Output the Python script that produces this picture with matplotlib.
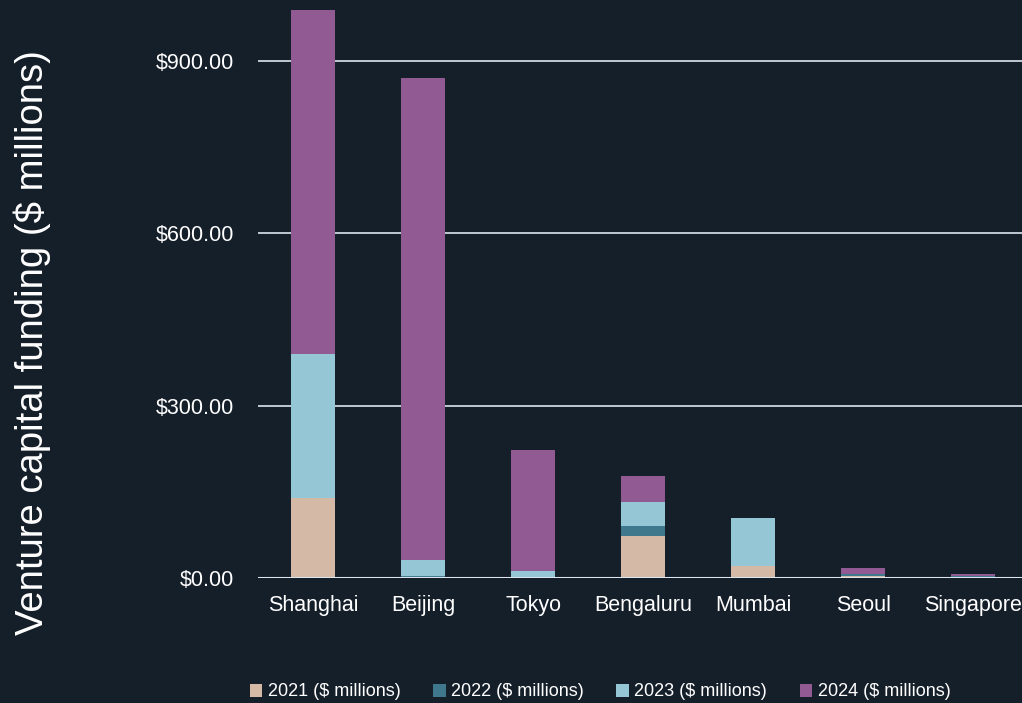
import numpy as np
import matplotlib.pyplot as plt
from matplotlib.ticker import FuncFormatter

plt.rcParams['font.family'] = ['Liberation Sans', 'DejaVu Sans']

# Данные
cities = ["Shanghai", "Beijing", "Tokyo", "Bengaluru", "Mumbai", "Seoul", "Singapore"]
funding_2021 = [140, 0, 0, 73, 21, 4, 0]
funding_2022 = [0, 4, 0, 17.5, 0, 3.5, 4]
funding_2023 = [250, 27, 12, 42, 83.5, 0, 0]
funding_2024 = [599, 839, 211, 45, 0, 10, 3]

series = [
    ("2021 ($ millions)", funding_2021, "#d3b9a6"),
    ("2022 ($ millions)", funding_2022, "#3f788d"),
    ("2023 ($ millions)", funding_2023, "#95c6d6"),
    ("2024 ($ millions)", funding_2024, "#925a93"),
]

bg = "#151f2a"
fig = plt.figure(figsize=(10.22, 7.03), dpi=100, facecolor=bg)
ax = fig.add_axes([0.2524, 0.1778, 0.7536, 0.817])
ax.set_facecolor(bg)

x = np.arange(len(cities))
bottom = np.zeros(len(cities))
for label, vals, color in series:
    vals = np.array(vals, dtype=float)
    ax.bar(x, vals, width=0.4, bottom=bottom, color=color, label=label, zorder=3)
    bottom += vals

ax.set_xlim(-0.5, len(cities) - 0.5)
ax.set_ylim(0, 1000)
ax.set_yticks([0, 300, 600, 900])
ax.yaxis.set_major_formatter(FuncFormatter(lambda v, p: f"${v:,.2f}"))
ax.set_xticks(x)
ax.set_xticklabels(cities)
ax.grid(axis="y", color="#dde6ee", linewidth=1.2, zorder=1)
ax.axhline(0, color="#dde6ee", linewidth=2.2, zorder=4)

for side in ["top", "right", "left", "bottom"]:
    ax.spines[side].set_visible(False)
ax.tick_params(axis="both", length=0, colors="white", labelsize=15.5)
ax.tick_params(axis="y", pad=17)
ax.tick_params(axis="x", pad=12)

fig.text(0.032, 0.513, "Venture capital funding ($ millions)", rotation=90,
         color="white", fontsize=27.5, ha="center", va="center")

leg = fig.legend(loc="center", bbox_to_anchor=(600 / 1022, 1 - 692 / 703), ncol=4,
                 frameon=False, fontsize=13, handlelength=0.7, handleheight=0.7,
                 handletextpad=0.3, columnspacing=1.8, labelcolor="white")

plt.savefig("out.png", dpi=100, facecolor=bg)
